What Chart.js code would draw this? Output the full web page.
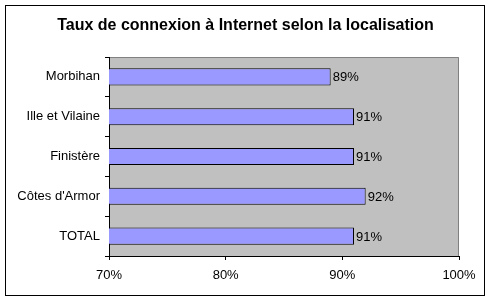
<!DOCTYPE html>
<html>
<head>
<meta charset="utf-8">
<script src="https://cdn.jsdelivr.net/npm/chart.js@4/dist/chart.umd.min.js"></script>
<style>
  html, body { margin: 0; padding: 0; background: #fff; }
  #wrap { width: 493px; height: 302px; }
</style>
</head>
<body>
<div id="wrap"><canvas id="chart_area" width="493" height="302"></canvas></div>
<script>
// chart data
const titleText = 'Taux de connexion à Internet selon la localisation';
const categories = ['Morbihan', 'Ille et Vilaine', 'Finistère', "Côtes d'Armor", 'TOTAL'];
const rates = [89, 91, 91, 92, 91];
const axisMin = 70;
const axisMax = 100;
const axisStep = 10;

const fontFamily = '"Liberation Sans", Arial, sans-serif';

// gray plot area, outer frame and title
const framePlugin = {
  id: 'frame',
  beforeDraw(chart) {
    const c = chart.ctx;
    const a = chart.chartArea;
    c.save();
    c.fillStyle = '#fff';
    c.fillRect(0, 0, chart.width, chart.height);
    c.strokeStyle = '#000';
    c.lineWidth = 1;
    c.strokeRect(5.5, 5.5, 479, 290);
    c.fillStyle = '#C0C0C0';
    c.fillRect(a.left, a.top, a.right - a.left, a.bottom - a.top);
    c.strokeStyle = '#808080';
    c.beginPath();
    c.moveTo(a.left, a.top + 0.5);
    c.lineTo(a.right - 0.5, a.top + 0.5);
    c.lineTo(a.right - 0.5, a.bottom);
    c.stroke();
    c.fillStyle = '#000';
    c.font = 'bold 16px ' + fontFamily;
    c.textAlign = 'center';
    c.textBaseline = 'middle';
    c.fillText(titleText, 245.5, 26);
    c.restore();
  }
};

// value labels after each bar
const valueLabels = {
  id: 'valueLabels',
  afterDatasetsDraw(chart) {
    const c = chart.ctx;
    const meta = chart.getDatasetMeta(0);
    c.save();
    c.fillStyle = '#000';
    c.font = '13px ' + fontFamily;
    c.textAlign = 'left';
    c.textBaseline = 'middle';
    meta.data.forEach((bar, i) => {
      c.fillText(rates[i] + '%', bar.x + 2, bar.y + 1);
    });
    c.restore();
  }
};

const ctx = document.getElementById('chart_area').getContext('2d');
const myChart = new Chart(ctx, {
  type: 'bar',
  data: {
    labels: categories,
    datasets: [{
      data: rates,
      backgroundColor: '#9999FF',
      borderColor: '#000',
      borderWidth: 1,
      borderSkipped: false,
      categoryPercentage: 1,
      barPercentage: 0.43
    }]
  },
  options: {
    indexAxis: 'y',
    responsive: false,
    animation: false,
    layout: { padding: { top: 57, right: 34, bottom: 0, left: 0 } },
    plugins: {
      legend: { display: false },
      title: { display: false },
      tooltip: { enabled: false }
    },
    scales: {
      x: {
        min: axisMin,
        max: axisMax,
        afterFit: s => { s.height = 46; },
        ticks: {
          stepSize: axisStep,
          color: '#000',
          font: { family: fontFamily, size: 13 },
          padding: 8,
          maxRotation: 0,
          callback: v => v + '%'
        },
        grid: { drawOnChartArea: false, drawTicks: true, tickLength: 4, color: '#000' },
        border: { display: true, color: '#000' }
      },
      y: {
        afterFit: s => { s.width = 109; },
        ticks: {
          color: '#000',
          font: { family: fontFamily, size: 13 },
          padding: 5
        },
        grid: { drawOnChartArea: false, drawTicks: true, tickLength: 4, color: '#000', offset: true },
        border: { display: true, color: '#000' }
      }
    }
  },
  plugins: [framePlugin, valueLabels]
});
</script>
</body>
</html>
